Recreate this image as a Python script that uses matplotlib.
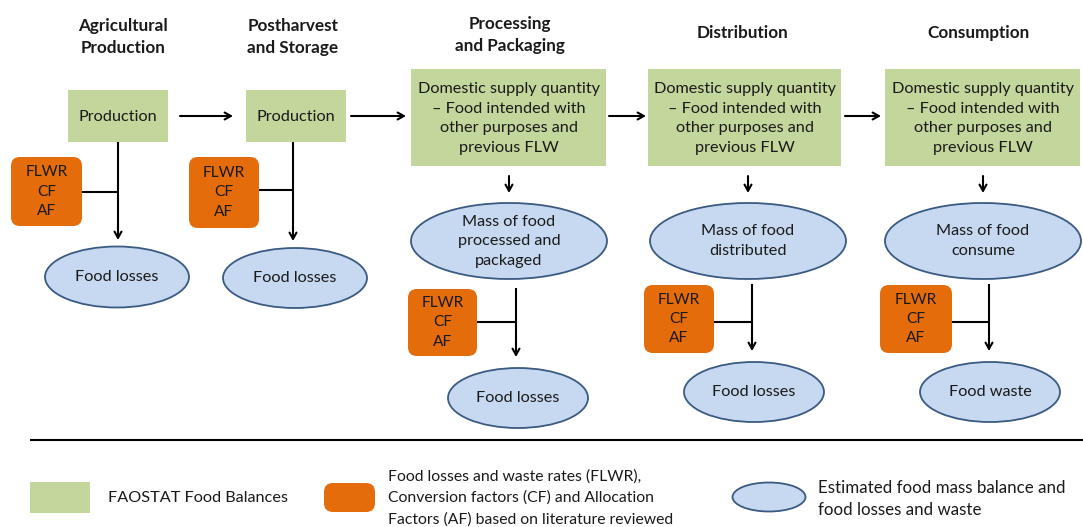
import matplotlib
matplotlib.use("Agg")
import matplotlib.pyplot as plt
from matplotlib.patches import Rectangle, FancyBboxPatch, Ellipse

# ---- content ----
stage_titles = ["Agricultural\nProduction", "Postharvest\nand Storage",
                "Processing\nand Packaging", "Distribution", "Consumption"]
supply_texts = ["Production", "Production",
                "Domestic supply quantity\n\u2013 Food intended with\nother purposes and\nprevious FLW",
                "Domestic supply quantity\n\u2013 Food intended with\nother purposes and\nprevious FLW",
                "Domestic supply quantity\n\u2013 Food intended with\nother purposes and\nprevious FLW"]
mass_texts = [None, None, "Mass of food\nprocessed and\npackaged",
              "Mass of food\ndistributed", "Mass of food\nconsume"]
factor_text = "FLWR\nCF\nAF"
result_texts = ["Food losses", "Food losses", "Food losses", "Food losses", "Food waste"]
legend_texts = ["FAOSTAT Food Balances",
                "Food losses and waste rates (FLWR),\nConversion factors (CF) and Allocation\nFactors (AF) based on literature reviewed",
                "Estimated food mass balance and\nfood losses and waste"]

# ---- style ----
GREEN = "#c3d69b"
ORANGE = "#e46c0a"
BLUE = "#c6d9f1"
EDGE = "#3b5a82"
TXT = "#1a1a1a"
FONT = ["Lato", "DejaVu Sans"]
plt.rcParams['font.family'] = FONT
FS = 11.7

fig = plt.figure(figsize=(10.83, 5.27), dpi=100)
ax = fig.add_axes([0, 0, 1, 1])
ax.set_xlim(0, 1083)
ax.set_ylim(527, 0)
ax.axis('off')

def arrow(x0, y0, x1, y1):
    ax.annotate("", xy=(x1, y1), xytext=(x0, y0),
                arrowprops=dict(arrowstyle="->,head_length=0.45,head_width=0.25",
                                lw=1.5, color="black", shrinkA=0, shrinkB=0))

def line(xs, ys):
    ax.plot(xs, ys, color="black", lw=1.5, solid_capstyle="butt")

def green_box(x0, y0, x1, y1, text, fs=FS):
    ax.add_patch(Rectangle((x0, y0), x1 - x0, y1 - y0, facecolor=GREEN, edgecolor="none"))
    ax.text((x0 + x1) / 2, (y0 + y1) / 2 + 1, text, ha="center", va="center",
            fontsize=fs, color=TXT, linespacing=1.5)

def orange_box(x0, y0, x1, y1, text, fs=11.2):
    ax.add_patch(FancyBboxPatch((x0, y0), x1 - x0, y1 - y0,
                                boxstyle="round,pad=0,rounding_size=9",
                                facecolor=ORANGE, edgecolor="none"))
    if text:
        ax.text((x0 + x1) / 2, (y0 + y1) / 2, text, ha="center", va="center",
                fontsize=fs, color=TXT, linespacing=1.48)

def ellipse(cx, cy, w, h, text, fs=FS):
    ax.add_patch(Ellipse((cx, cy), w, h, facecolor=BLUE, edgecolor=EDGE, lw=1.3))
    if text:
        ax.text(cx, cy, text, ha="center", va="center", fontsize=fs,
                color=TXT, linespacing=1.5)

# titles
title_pos = [(123, 37), (293, 37), (510, 35), (743, 33), (979, 33)]
for (x, y), t in zip(title_pos, stage_titles):
    ax.text(x, y, t, ha="center", va="center", fontsize=12.3, fontweight="bold",
            color=TXT, linespacing=1.42)

# supply boxes
supply_boxes = [(68, 90, 168, 142), (246, 90, 346, 142),
                (411, 69, 606, 166), (648, 69, 841, 166), (885, 69, 1080, 166)]
for (x0, y0, x1, y1), t in zip(supply_boxes, supply_texts):
    green_box(x0, y0, x1, y1, t)

# horizontal arrows
for xa, xb in [(180, 233), (351, 406), (609, 646), (845, 881)]:
    arrow(xa, 116, xb, 116)

# columns 1-2
col12 = [dict(x=118, y0=142, y1=240, ob=(11, 157, 82, 226), hy=192, el=(117, 277, 144, 61)),
         dict(x=293, y0=142, y1=241, ob=(189, 157, 259, 228), hy=190, el=(295, 278, 144, 60))]
for c, r in zip(col12, result_texts[:2]):
    line([c['x'], c['x']], [c['y0'], c['y1'] - 12])
    arrow(c['x'], c['y1'] - 14, c['x'], c['y1'])
    ob = c['ob']
    orange_box(*ob, factor_text)
    line([ob[2], c['x']], [c['hy'], c['hy']])
    ellipse(*c['el'], r)

# columns 3-5
col345 = [dict(cx=509, my=241, x=516, y0=288, y1=357, ob=(408, 289, 477, 356), hy=322, el=(518, 398, 140, 60)),
          dict(cx=748, my=241, x=752, y0=284, y1=351, ob=(644, 285, 714, 353), hy=322, el=(754, 392, 140, 60)),
          dict(cx=983, my=241, x=989, y0=284, y1=351, ob=(880, 285, 952, 353), hy=322, el=(990, 392, 140, 60))]
for c, m, r in zip(col345, mass_texts[2:], result_texts[2:]):
    arrow(c['cx'], 176, c['cx'], 193)
    ellipse(c['cx'], c['my'], 196, 76, m)
    line([c['x'], c['x']], [c['y0'], c['y1'] - 12])
    arrow(c['x'], c['y1'] - 14, c['x'], c['y1'])
    ob = c['ob']
    orange_box(*ob, factor_text)
    line([ob[2], c['x']], [c['hy'], c['hy']])
    ellipse(*c['el'], r)

# separator
line([30, 1083], [440, 440])

# legend
ax.add_patch(Rectangle((30, 482), 60, 31, facecolor=GREEN, edgecolor="none"))
ax.text(108, 498, legend_texts[0], ha="left", va="center", fontsize=FS, color=TXT)
orange_box(324, 483, 375, 512, None)
ax.text(388, 498, legend_texts[1], ha="left", va="center", fontsize=11.3, color=TXT,
        linespacing=1.6)
ellipse(769, 497, 73, 29, None)
ax.text(818, 499, legend_texts[2], ha="left", va="center", fontsize=12.2, color=TXT,
        linespacing=1.5)

fig.savefig("out.png", dpi=100, facecolor="white")
